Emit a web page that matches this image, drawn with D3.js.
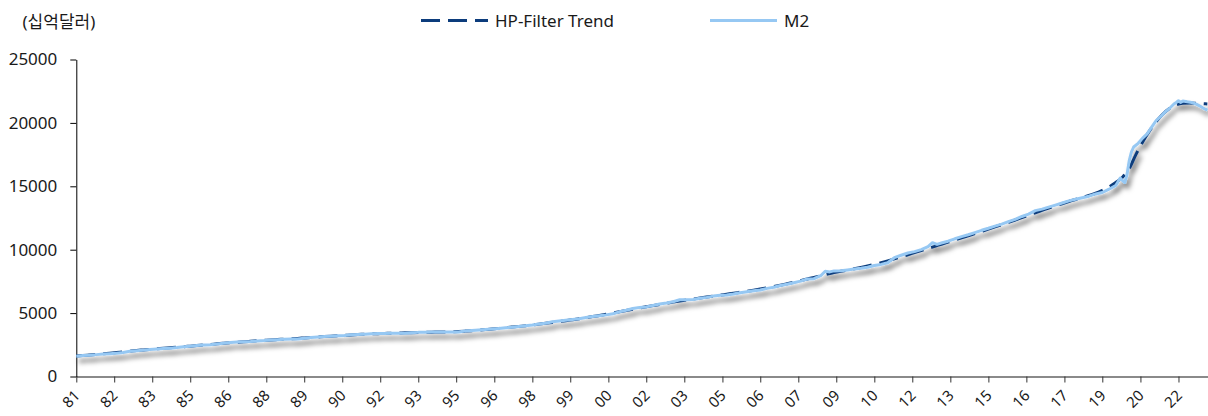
<!DOCTYPE html>
<html><head><meta charset="utf-8">
<script src="https://cdn.jsdelivr.net/npm/d3@7"></script>
<style>
body{margin:0;background:#fff}
svg{display:block}
text{font-family:"Noto Sans","Noto Sans CJK KR",sans-serif;fill:#1a1a1a}
</style>
</head><body>
<svg id="c" width="1208" height="416"></svg>
<script>
// ---------- data ----------
const unitLabel = "(십억달러)";
const seriesNames = ["HP-Filter Trend", "M2"];
const xTickLabels = ["81","82","83","85","86","88","89","90","92","93","95","96","98","99","00","02","03","05","06","07","09","10","12","13","15","16","17","19","20","22"];
const yTickValues = [0, 5000, 10000, 15000, 20000, 25000];

const m2Dates = [
"1981-01","1981-04","1981-07","1981-10","1982-01","1982-04","1982-07","1982-10",
"1983-01","1983-04","1983-07","1983-10","1984-01","1984-04","1984-07","1984-10",
"1985-01","1985-04","1985-07","1985-10","1986-01","1986-04","1986-07","1986-10",
"1987-01","1987-04","1987-07","1987-10","1988-01","1988-04","1988-07","1988-10",
"1989-01","1989-04","1989-07","1989-10","1990-01","1990-04","1990-07","1990-10",
"1991-01","1991-04","1991-07","1991-10","1992-01","1992-04","1992-07","1992-10",
"1993-01","1993-04","1993-07","1993-10","1994-01","1994-04","1994-07","1994-10",
"1995-01","1995-04","1995-07","1995-10","1996-01","1996-04","1996-07","1996-10",
"1997-01","1997-04","1997-07","1997-10","1998-01","1998-04","1998-07","1998-10",
"1999-01","1999-04","1999-07","1999-10","2000-01","2000-04","2000-07","2000-10",
"2001-01","2001-04","2001-07","2001-10","2002-01","2002-04","2002-07","2002-10",
"2003-01","2003-04","2003-07","2003-10","2004-01","2004-04","2004-07","2004-10",
"2005-01","2005-04","2005-07","2005-10","2006-01","2006-04","2006-07","2006-10",
"2007-01","2007-04","2007-07","2007-10","2008-01","2008-04","2008-07","2008-10","2008-12","2009-02",
"2009-04","2009-07","2009-10","2010-01","2010-04","2010-07","2010-10",
"2011-01","2011-04","2011-07","2011-10","2012-01","2012-04","2012-07","2012-10","2012-12","2013-02",
"2013-04","2013-07","2013-10","2014-01","2014-04","2014-07","2014-10",
"2015-01","2015-04","2015-07","2015-10","2016-01","2016-04","2016-07","2016-10",
"2017-01","2017-04","2017-07","2017-10","2018-01","2018-04","2018-07","2018-10",
"2019-01","2019-04","2019-07","2019-10","2019-12",
"2020-01","2020-02","2020-03","2020-04","2020-05","2020-06","2020-08","2020-10","2020-12",
"2021-02","2021-04","2021-06","2021-08","2021-10","2021-12",
"2022-01","2022-02","2022-03","2022-04","2022-06","2022-08","2022-10","2022-12",
"2023-01","2023-02","2023-03"
];
const m2Values = [
1600,1650,1680,1725,1765,1800,1840,1890,
1990,2040,2080,2120,2160,2200,2235,2280,
2340,2385,2440,2480,2510,2565,2630,2690,
2730,2750,2765,2795,2830,2880,2905,2930,
2950,2960,3010,3070,3110,3150,3180,3210,
3240,3290,3310,3340,3380,3390,3400,3420,
3410,3420,3450,3480,3490,3500,3500,3500,
3500,3510,3580,3630,3670,3710,3750,3790,
3840,3880,3940,4000,4060,4140,4200,4320,
4380,4440,4500,4560,4660,4730,4790,4860,
4950,5100,5220,5360,5450,5490,5600,5720,
5800,5900,6050,6050,6080,6170,6240,6340,
6400,6430,6500,6610,6690,6760,6820,6950,
7040,7180,7270,7390,7520,7690,7710,7950,8300,8250,
8330,8340,8400,8470,8530,8620,8750,
8840,8970,9370,9560,9740,9850,10010,10240,10550,10420,
10530,10670,10860,11030,11180,11350,11530,
11690,11860,12020,12210,12390,12620,12810,13080,
13200,13360,13520,13680,13850,13980,14100,14220,
14400,14510,14770,15060,15650,
15450,15300,15900,17000,17700,18100,18390,18800,19130,
19670,20170,20490,20850,21140,21490,
21610,21750,21620,21720,21660,21610,21480,21290,
21180,21080,21000
];

const trendDates = [
"1981-01","1981-04","1981-07","1981-10","1982-01","1982-04","1982-07","1982-10",
"1983-01","1983-04","1983-07","1983-10","1984-01","1984-04","1984-07","1984-10",
"1985-01","1985-04","1985-07","1985-10","1986-01","1986-04","1986-07","1986-10",
"1987-01","1987-04","1987-07","1987-10","1988-01","1988-04","1988-07","1988-10",
"1989-01","1989-04","1989-07","1989-10","1990-01","1990-04","1990-07","1990-10",
"1991-01","1991-04","1991-07","1991-10","1992-01","1992-04","1992-07","1992-10",
"1993-01","1993-04","1993-07","1993-10","1994-01","1994-04","1994-07","1994-10",
"1995-01","1995-04","1995-07","1995-10","1996-01","1996-04","1996-07","1996-10",
"1997-01","1997-04","1997-07","1997-10","1998-01","1998-04","1998-07","1998-10",
"1999-01","1999-04","1999-07","1999-10","2000-01","2000-04","2000-07","2000-10",
"2001-01","2001-04","2001-07","2001-10","2002-01","2002-04","2002-07","2002-10",
"2003-01","2003-04","2003-07","2003-10","2004-01","2004-04","2004-07","2004-10",
"2005-01","2005-04","2005-07","2005-10","2006-01","2006-04","2006-07","2006-10",
"2007-01","2007-04","2007-07","2007-10","2008-01","2008-04","2008-07","2008-10",
"2009-01","2009-04","2009-07","2009-10","2010-01","2010-04","2010-07","2010-10",
"2011-01","2011-04","2011-07","2011-10","2012-01","2012-04","2012-07","2012-10",
"2013-01","2013-04","2013-07","2013-10","2014-01","2014-04","2014-07","2014-10",
"2015-01","2015-04","2015-07","2015-10","2016-01","2016-04","2016-07","2016-10",
"2017-01","2017-04","2017-07","2017-10","2018-01","2018-04","2018-07","2018-10",
"2019-01","2019-04","2019-07","2019-10","2020-01","2020-04","2020-07","2020-10",
"2021-01","2021-04","2021-07","2021-10","2022-01","2022-04","2022-07","2022-10",
"2023-01","2023-03"
];
const trendValues = [
1610,1650,1695,1740,1790,1840,1890,1945,
2000,2050,2095,2140,2180,2225,2265,2310,
2350,2395,2440,2485,2530,2575,2620,2665,
2705,2745,2780,2815,2850,2885,2915,2945,
2975,3005,3040,3075,3110,3145,3180,3215,
3245,3280,3310,3335,3360,3380,3400,3415,
3430,3445,3460,3475,3485,3495,3505,3515,
3530,3550,3580,3615,3655,3700,3745,3795,
3845,3895,3950,4005,4065,4130,4195,4265,
4335,4405,4480,4555,4640,4725,4815,4905,
5000,5100,5200,5300,5400,5495,5590,5685,
5775,5865,5950,6030,6110,6190,6265,6340,
6415,6490,6565,6645,6725,6810,6900,6995,
7095,7200,7315,7435,7560,7690,7820,7950,
8075,8190,8295,8395,8495,8600,8715,8840,
8975,9120,9275,9435,9600,9765,9930,10100,
10265,10430,10595,10760,10930,11100,11270,11445,
11620,11795,11975,12160,12345,12535,12725,12915,
13100,13280,13455,13625,13800,13960,14120,14280,
14450,14680,14950,15300,15720,16400,17500,18500,
19350,20080,20680,21130,21420,21540,21570,21550,
21520,21500
];

// ---------- chart ----------
const svg = d3.select("#c");
const parse = d3.timeParse("%Y-%m");
const start = new Date(1981, 0, 1);
const x = d3.scaleTime().domain([start, new Date(2023, 2, 10)]).range([76.3, 1208]);
const y = d3.scaleLinear().domain([0, 25000]).range([376.5, 59.5]);

const defs = svg.append("defs");
const f = defs.append("filter").attr("id", "sh").attr("x", "-5%").attr("y", "-20%").attr("width", "110%").attr("height", "140%");
f.append("feDropShadow").attr("dx", 3).attr("dy", 5).attr("stdDeviation", 2.6)
  .attr("flood-color", "#000").attr("flood-opacity", 0.5);

const m2 = m2Dates.map((d, i) => ({ d: parse(d), v: m2Values[i] }));
const tr = trendDates.map((d, i) => ({ d: parse(d), v: trendValues[i] }));

// axes
const xTicks = xTickLabels.map((_, i) => d3.timeMonth.offset(start, 17 * i));
const gx = svg.append("g").attr("transform", "translate(0,376.5)")
  .call(d3.axisBottom(x).tickValues(xTicks).tickSize(6).tickSizeOuter(0)
    .tickFormat(() => ""));
gx.select(".domain").attr("stroke", "#8a8a8a").attr("stroke-width", 2);
gx.selectAll(".tick line").attr("stroke", "#333").attr("stroke-width", 1);
gx.selectAll(".tick text").remove();
gx.selectAll(".tick").append("text")
  .attr("transform", "translate(4,20) rotate(-45)")
  .attr("text-anchor", "end")
  .attr("fill", "#1a1a1a")
  .style("font-size", "15px")
  .text((d, i) => xTickLabels[i]);

const gy = svg.append("g").attr("transform", "translate(76.3,0)")
  .call(d3.axisLeft(y).tickValues(yTickValues).tickSize(6).tickSizeOuter(0).tickPadding(13)
    .tickFormat(d3.format("d")));
gy.select(".domain").attr("stroke", "#000").attr("stroke-width", 1);
gy.selectAll(".tick line").attr("stroke", "#000");
gy.selectAll(".tick text").style("font-size", "17px").attr("fill", "#1a1a1a");

// lines
const lines = svg.append("g").attr("filter", "url(#sh)");
lines.append("path").datum(tr)
  .attr("d", d3.line().x(p => x(p.d)).y(p => y(p.v)).curve(d3.curveMonotoneX))
  .attr("fill", "none").attr("stroke", "#0c3c7c").attr("stroke-width", 3)
  .attr("stroke-dasharray", "19,8");
lines.append("path").datum(m2)
  .attr("d", d3.line().x(p => x(p.d)).y(p => y(p.v)))
  .attr("fill", "none").attr("stroke", "#96c8f3").attr("stroke-width", 3)
  .attr("stroke-linejoin", "round");

// title
svg.append("text").attr("x", 22.5).attr("y", 28).style("font-size", "17px").text(unitLabel);

// legend
const lg = svg.append("g");
lg.append("line").attr("x1", 421).attr("x2", 488).attr("y1", 20.5).attr("y2", 20.5)
  .attr("stroke", "#0c3c7c").attr("stroke-width", 3).attr("stroke-dasharray", "19,8");
lg.append("text").attr("x", 495).attr("y", 27).style("font-size", "17px").text(seriesNames[0]);
lg.append("line").attr("x1", 710).attr("x2", 777).attr("y1", 20.5).attr("y2", 20.5)
  .attr("stroke", "#96c8f3").attr("stroke-width", 3);
lg.append("text").attr("x", 784).attr("y", 27).style("font-size", "17px").text(seriesNames[1]);
</script>
</body></html>
